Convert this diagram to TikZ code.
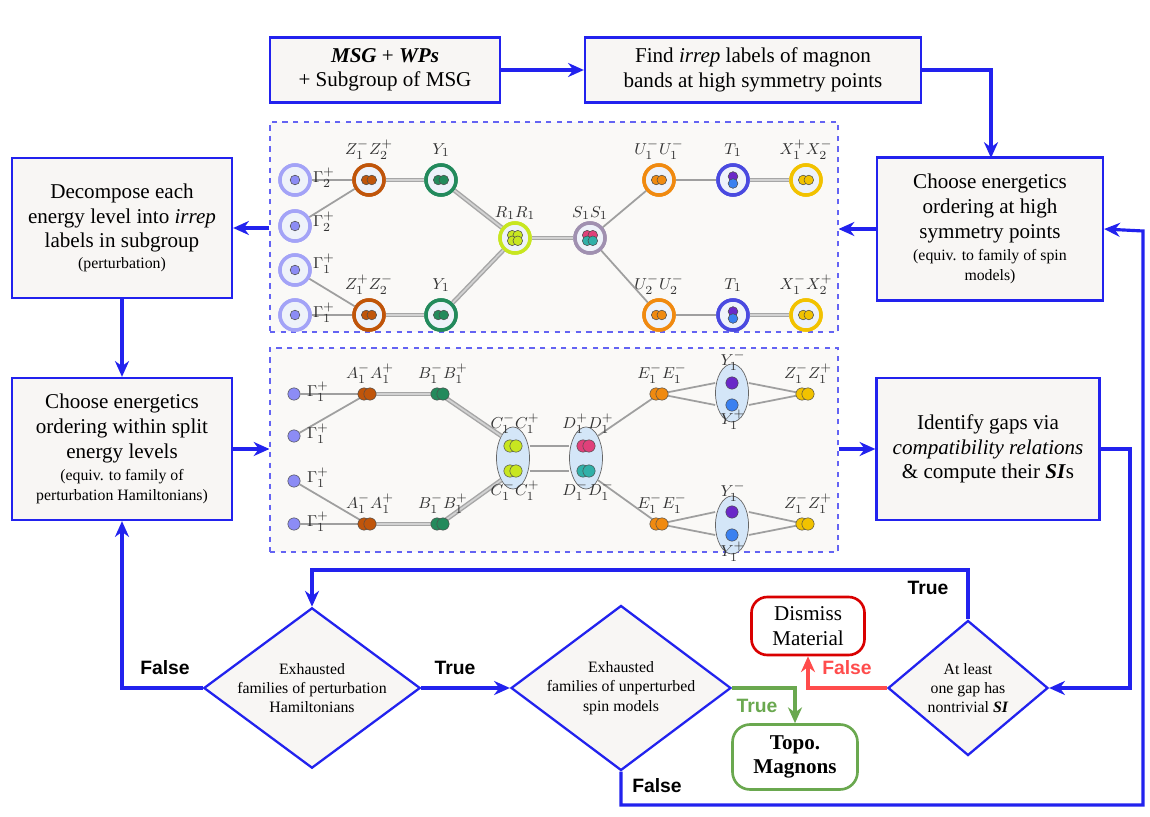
\documentclass[tikz,border=0pt]{standalone}
\usepackage{fontspec}
\setmainfont{Liberation Serif}
\newfontfamily\lsans{Liberation Sans}
\usetikzlibrary{shapes.geometric,arrows.meta}
\definecolor{fb}{HTML}{2222EE}
\definecolor{boxbg}{HTML}{F8F6F4}
\definecolor{panbg}{HTML}{FAF9F7}
\definecolor{cbg}{HTML}{EEF2FA}
\definecolor{cGam}{HTML}{8C8CF5}
\definecolor{cZ}{HTML}{C0550A}
\definecolor{cY}{HTML}{238A5C}
\definecolor{cR}{HTML}{C8E620}
\definecolor{cS}{HTML}{A090B0}
\definecolor{cU}{HTML}{F08A10}
\definecolor{cT}{HTML}{4A4AE0}
\definecolor{cX}{HTML}{F2C200}
\definecolor{cPink}{HTML}{E0407A}
\definecolor{cTeal}{HTML}{30B0A8}
\definecolor{cPur}{HTML}{6A28C8}
\definecolor{cBlu}{HTML}{3A80F0}
\definecolor{cEll}{HTML}{D4E6F8}
\definecolor{cGrn}{HTML}{6AA84F}
\begin{document}
\begin{tikzpicture}[x=0.02cm,y=-0.02cm,
  box/.style={draw=fb,line width=1.3pt,fill=boxbg,align=center,inner sep=2pt,font=\fontsize{12}{14}\selectfont},
  dia/.style={diamond,draw=fb,line width=1.3pt,fill=boxbg,align=center,aspect=1.35,inner sep=0pt,font=\fontsize{9}{11}\selectfont},
  arr/.style={draw=fb,line width=1.8pt,-{Stealth[length=9pt,width=8pt]}},
  lab/.style={font=\lsans\bfseries\fontsize{11}{13}\selectfont},
  panel/.style={draw=fb!70,dashed,fill=panbg,line width=0.6pt},
  dot/.style={circle,draw=black!70,line width=0.3pt,inner sep=0pt,minimum size=5.5pt},
  sd/.style={circle,draw=black!70,line width=0.3pt,inner sep=0pt,minimum size=7pt},
  sl/.style={draw=gray!75,line width=1pt},
  dl/.style={draw=gray!70,double=gray!35,double distance=1pt,line width=0.8pt},
  ell/.style={ellipse,draw=black!60,fill=cEll,line width=0.4pt,minimum width=33*0.02cm,minimum height=62*0.02cm,inner sep=0pt},
  ml/.style={font=\fontsize{9.5}{10}\selectfont,text=black!80,inner sep=0.5pt}
]
\useasboundingbox (0,0) rectangle (1150,817);

% ---- main boxes
\node[box,minimum width=230*0.02cm,minimum height=65*0.02cm] (msg) at (385,70) {\textbf{\textit{MSG}} + \textbf{\textit{WPs}}\\+ Subgroup of MSG};
\node[box,minimum width=336*0.02cm,minimum height=65*0.02cm] (find) at (753,70) {Find \textit{irrep} labels of magnon\\bands at high symmetry points};
\node[box,minimum width=226*0.02cm,minimum height=143*0.02cm] (chs) at (990,229) {Choose energetics\\ordering at high\\symmetry points\\[-1pt]{\fontsize{9}{10}\selectfont (equiv. to family of spin}\\[-3pt]{\fontsize{9}{10}\selectfont models)}};
\node[box,minimum width=220*0.02cm,minimum height=140*0.02cm] (dec) at (122,228) {Decompose each\\energy level into \textit{irrep}\\labels in subgroup\\[-2pt]{\fontsize{9}{10}\selectfont (perturbation)}};
\node[box,minimum width=220*0.02cm,minimum height=142*0.02cm] (chw) at (122,449) {Choose energetics\\ordering within split\\energy levels\\[-1pt]{\fontsize{9}{10}\selectfont (equiv. to family of}\\[-3pt]{\fontsize{9}{10}\selectfont perturbation Hamiltonians)}};
\node[box,minimum width=223*0.02cm,minimum height=142*0.02cm] (idg) at (988,449) {Identify gaps via\\\textit{compatibility relations}\\\& compute their \textbf{\textit{SI}}s};

% ---- panels
\node[panel,minimum width=568*0.02cm,minimum height=210*0.02cm,inner sep=0pt] (p1) at (554,227) {};
\node[panel,minimum width=568*0.02cm,minimum height=204*0.02cm,inner sep=0pt] (p2) at (554,450) {};

% ---- diamonds
\node[dia,minimum width=210*0.02cm,minimum height=155*0.02cm] (d1) at (312,688) {Exhausted\\families of perturbation\\Hamiltonians};
\node[dia,minimum width=212*0.02cm,minimum height=165*0.02cm] (d2) at (621,688) {Exhausted\\families of unperturbed\\spin models};
\node[dia,minimum width=160*0.02cm,minimum height=135*0.02cm] (d3) at (968,688) {At least\\one gap has\\nontrivial \textbf{\textit{SI}}};
\node[draw=red!85!black,line width=1.5pt,rounded corners=9pt,fill=white,align=center,minimum width=113*0.02cm,minimum height=58*0.02cm,font=\fontsize{12}{14}\selectfont] (dis) at (808,626) {Dismiss\\Material};
\node[draw=cGrn,line width=1.5pt,rounded corners=10pt,fill=white,align=center,minimum width=125*0.02cm,minimum height=65*0.02cm,font=\bfseries\fontsize{12}{14}\selectfont] (topo) at (795,757) {Topo.\\Magnons};

% ---- arrows
\draw[arr] (msg.east) -- (find.west);
\draw[arr] (find.east) -- (991,70) -- (991,158);
\draw[arr] (chs.west) -- (p1.east |- chs.west);
\draw[arr] (p1.west |- dec.east) -- (dec.east);
\draw[arr] (dec.south) -- (chw.north);
\draw[arr] (chw.east) -- (p2.west |- chw.east);
\draw[arr] (p2.east |- idg.west) -- (idg.west);
\draw[arr] (idg.east) -- (1130,449) -- (1130,688) -- (d3.east);
\draw[arr] (d3.north) -- (968,570) -- (312,570) -- (d1.north);
\draw[arr,draw=red!70] (d3.west) -- (808,688) -- (dis.south);
\draw[arr] (d1.west) -- (122,688) -- (chw.south);
\draw[arr] (d1.east) -- (d2.west);
\draw[arr,draw=cGrn] (d2.east) -- (795,688) -- (topo.north);
\draw[arr] (d2.south) -- (621,805) -- (1143,805) -- (1143,231) -- (chs.east);
\node[lab] at (928,588) {True};
\node[lab,text=red!70] at (847,668) {False};
\node[lab] at (165,668) {False};
\node[lab] at (455,668) {True};
\node[lab,text=cGrn] at (757,706) {True};
\node[lab] at (657,786) {False};

% ---- top panel graph
\tikzset{bc/.style={circle,draw=#1,line width=2pt,fill=cbg,minimum size=30*0.02cm,inner sep=0pt}}
\node[bc=cGam!80] (g1) at (295,180) {}; \node[bc=cGam!80] (g2) at (295,226) {};
\node[bc=cGam!80] (g3) at (295,270) {}; \node[bc=cGam!80] (g4) at (295,315) {};
\node[bc=cZ] (z1) at (369,180) {}; \node[bc=cZ] (z2) at (369,315) {};
\node[bc=cY] (y1) at (441,180) {}; \node[bc=cY] (y2) at (441,315) {};
\node[bc=cR] (r) at (515,238) {}; \node[bc=cS] (s) at (590,238) {};
\node[bc=cU] (u1) at (659,180) {}; \node[bc=cU] (u2) at (659,315) {};
\node[bc=cT] (t1) at (733,180) {}; \node[bc=cT] (t2) at (733,315) {};
\node[bc=cX] (x1) at (806,180) {}; \node[bc=cX] (x2) at (806,315) {};
\draw[sl] (g1) -- (z1); \draw[sl] (g2) -- (z1); \draw[sl] (g3) -- (z2); \draw[sl] (g4) -- (z2);
\draw[dl] (z1) -- (y1); \draw[dl] (z2) -- (y2); \draw[dl] (y1) -- (r); \draw[dl] (y2) -- (r);
\draw[dl] (r) -- (s); \draw[sl] (s) -- (u1); \draw[sl] (s) -- (u2);
\draw[sl] (u1) -- (t1); \draw[sl] (u2) -- (t2); \draw[dl] (t1) -- (x1); \draw[dl] (t2) -- (x2);
\foreach \n/\c in {g1/cGam!80,g2/cGam!80,g3/cGam!80,g4/cGam!80,z1/cZ,z2/cZ,y1/cY,y2/cY,r/cR,s/cS,u1/cU,u2/cU,t1/cT,t2/cT,x1/cX,x2/cX}
  \node[bc=\c] at (\n) {};
\foreach \n in {g1,g2,g3,g4} \node[dot,fill=cGam] at (\n) {};
\foreach \n/\c in {z1/cZ,z2/cZ,y1/cY,y2/cY,u1/cU,u2/cU,x1/cX,x2/cX}
  {\node[dot,fill=\c] at ([xshift=-2.8*0.02cm]\n) {}; \node[dot,fill=\c] at ([xshift=2.8*0.02cm]\n) {};}
\foreach \dx/\dy in {-2.8/-2.8,2.8/-2.8,-2.8/2.8,2.8/2.8} \node[dot,fill=cR] at ([shift={(\dx*0.02cm,-\dy*0.02cm)}]r) {};
\node[dot,fill=cPink] at ([shift={(-2.8*0.02cm,2.8*0.02cm)}]s) {}; \node[dot,fill=cPink] at ([shift={(2.8*0.02cm,2.8*0.02cm)}]s) {};
\node[dot,fill=cTeal] at ([shift={(-2.8*0.02cm,-2.8*0.02cm)}]s) {}; \node[dot,fill=cTeal] at ([shift={(2.8*0.02cm,-2.8*0.02cm)}]s) {};
\foreach \n in {t1,t2} {\node[dot,fill=cPur] at ([yshift=3.5*0.02cm]\n) {}; \node[dot,fill=cBlu] at ([yshift=-3.5*0.02cm]\n) {};}
\node[ml] at (324,178) {$\Gamma_2^+$}; \node[ml] at (324,222) {$\Gamma_2^+$};
\node[ml] at (324,264) {$\Gamma_1^+$}; \node[ml] at (324,313) {$\Gamma_1^+$};
\node[ml] at (369,150) {$Z_1^-Z_2^+$}; \node[ml] at (369,285) {$Z_1^+Z_2^-$};
\node[ml] at (441,150) {$Y_1$}; \node[ml] at (441,285) {$Y_1$};
\node[ml] at (515,213) {$R_1R_1$}; \node[ml] at (590,213) {$S_1S_1$};
\node[ml] at (659,150) {$U_1^-U_1^-$}; \node[ml] at (659,285) {$U_2^-U_2^-$};
\node[ml] at (733,150) {$T_1$}; \node[ml] at (733,285) {$T_1$};
\node[ml] at (806,150) {$X_1^+X_2^-$}; \node[ml] at (806,285) {$X_1^-X_2^+$};

% ---- bottom panel graph
\foreach \n/\y in {h1/394,h2/436,h3/481,h4/524} \node[sd,fill=cGam] (\n) at (294,\y) {};
\coordinate (a1) at (367,394); \coordinate (a2) at (367,524);
\coordinate (b1) at (440,394); \coordinate (b2) at (440,524);
\coordinate (e1) at (659,394); \coordinate (e2) at (659,524);
\coordinate (zz1) at (805,394); \coordinate (zz2) at (805,524);
\node[ell] (ce) at (513,458) {}; \node[ell] (de) at (586,458) {};
\node[ell,minimum height=58*0.02cm] (ye1) at (732,393) {}; \node[ell,minimum height=58*0.02cm] (ye2) at (732,525) {};
\draw[sl] (h1) -- (a1); \draw[sl] (h2) -- (a1); \draw[sl] (h3) -- (a2); \draw[sl] (h4) -- (a2);
\draw[dl] (a1) -- (b1); \draw[dl] (a2) -- (b2);
\draw[dl] (b1) -- (ce.north west); \draw[dl] (b2) -- (ce.south west);
\draw[sl] (ce.east |- 0,446) -- (de.west |- 0,446); \draw[sl] (ce.east |- 0,471) -- (de.west |- 0,471);
\draw[sl] (de.north east) -- (e1); \draw[sl] (de.south east) -- (e2);
\draw[sl] (e1) -- (ye1.west |- 0,383); \draw[sl] (e1) -- (ye1.west |- 0,405);
\draw[sl] (ye1.east |- 0,383) -- (zz1); \draw[sl] (ye1.east |- 0,405) -- (zz1);
\draw[sl] (e2) -- (ye2.west |- 0,512); \draw[sl] (e2) -- (ye2.west |- 0,535);
\draw[sl] (ye2.east |- 0,512) -- (zz2); \draw[sl] (ye2.east |- 0,535) -- (zz2);
\foreach \n/\c in {a1/cZ,a2/cZ,b1/cY,b2/cY,e1/cU,e2/cU,zz1/cX,zz2/cX}
  {\node[sd,fill=\c] at ([xshift=-3*0.02cm]\n) {}; \node[sd,fill=\c] at ([xshift=3*0.02cm]\n) {};}
\foreach \y/\c in {446/cR,471/cR} {\node[sd,fill=\c] at (510,\y) {}; \node[sd,fill=\c] at (516,\y) {};}
\node[sd,fill=cPink] at (583,446) {}; \node[sd,fill=cPink] at (589,446) {};
\node[sd,fill=cTeal] at (583,471) {}; \node[sd,fill=cTeal] at (589,471) {};
\node[sd,fill=cPur] at (732,383) {}; \node[sd,fill=cBlu] at (732,405) {};
\node[sd,fill=cPur] at (732,512) {}; \node[sd,fill=cBlu] at (732,535) {};
\node[ml] at (318,392) {$\Gamma_1^+$}; \node[ml] at (318,434) {$\Gamma_1^+$};
\node[ml] at (318,478) {$\Gamma_1^+$}; \node[ml] at (318,522) {$\Gamma_1^+$};
\node[ml] at (370,374) {$A_1^-A_1^+$}; \node[ml] at (370,504) {$A_1^-A_1^+$};
\node[ml] at (443,374) {$B_1^-B_1^+$}; \node[ml] at (443,504) {$B_1^-B_1^+$};
\node[ml] at (515,424) {$C_1^-C_1^+$}; \node[ml] at (515,491) {$C_1^-C_1^+$};
\node[ml] at (588,424) {$D_1^+D_1^+$}; \node[ml] at (588,491) {$D_1^-D_1^-$};
\node[ml] at (662,374) {$E_1^-E_1^-$}; \node[ml] at (662,504) {$E_1^-E_1^-$};
\node[ml] at (808,374) {$Z_1^-Z_1^+$}; \node[ml] at (808,504) {$Z_1^-Z_1^+$};
\node[ml] at (733,361) {$Y_1^-$}; \node[ml] at (733,420) {$Y_1^+$};
\node[ml] at (733,492) {$Y_1^-$}; \node[ml] at (733,552) {$Y_1^+$};
\end{tikzpicture}
\end{document}
